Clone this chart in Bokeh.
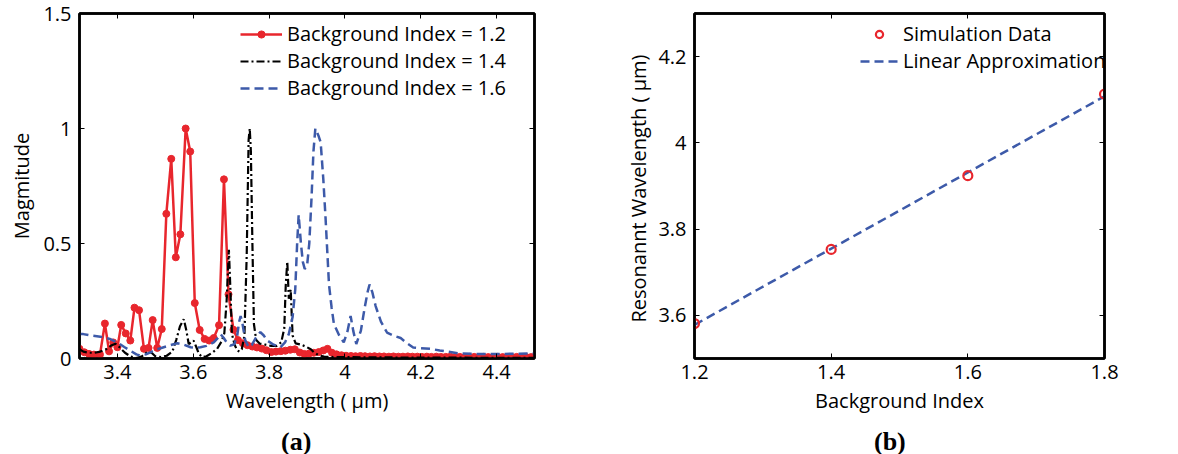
from bokeh.plotting import figure
from bokeh.layouts import row, column
from bokeh.models import (FixedTicker, CustomJSTickFormatter, LinearAxis, Legend,
                          LegendItem, Div)
from bokeh.embed import file_html
from bokeh.resources import INLINE

# ---------------- data: panel (a) ----------------
red_wl = [3.300, 3.313, 3.325, 3.338, 3.354, 3.367, 3.378, 3.389, 3.400, 3.410,
          3.422, 3.434, 3.445, 3.457, 3.470, 3.482, 3.493, 3.505, 3.517, 3.529,
          3.542, 3.554, 3.566, 3.580, 3.592, 3.604, 3.617, 3.630, 3.642, 3.654,
          3.668, 3.681, 3.693, 3.706, 3.718, 3.731, 3.743, 3.756, 3.768, 3.781,
          3.793, 3.806, 3.818, 3.831, 3.843, 3.856, 3.868, 3.881, 3.893, 3.906,
          3.918, 3.931, 3.943, 3.954, 3.966, 3.978, 3.991, 4.003, 4.016, 4.028,
          4.041, 4.053, 4.066, 4.078, 4.091, 4.103, 4.116, 4.128, 4.141, 4.153,
          4.166, 4.178, 4.191, 4.203, 4.216, 4.228, 4.241, 4.253, 4.266, 4.278,
          4.291, 4.303, 4.316, 4.328, 4.341, 4.353, 4.366, 4.378, 4.391, 4.403,
          4.416, 4.428, 4.441, 4.453, 4.466, 4.478, 4.491, 4.500]
red_mag = [0.042, 0.027, 0.020, 0.017, 0.017, 0.152, 0.031, 0.070, 0.049, 0.146,
           0.109, 0.078, 0.221, 0.210, 0.042, 0.046, 0.167, 0.046, 0.128, 0.629,
           0.868, 0.440, 0.540, 1.000, 0.900, 0.241, 0.124, 0.085, 0.078, 0.089,
           0.145, 0.779, 0.279, 0.125, 0.080, 0.066, 0.058, 0.052, 0.048, 0.043,
           0.036, 0.028, 0.030, 0.032, 0.034, 0.038, 0.040, 0.026, 0.020, 0.022,
           0.025, 0.028, 0.035, 0.042, 0.025, 0.018, 0.014, 0.012, 0.011, 0.010,
           0.011, 0.010, 0.009, 0.010, 0.009, 0.009, 0.008, 0.009, 0.008, 0.008,
           0.009, 0.008, 0.008, 0.007, 0.008, 0.007, 0.008, 0.007, 0.007, 0.008,
           0.007, 0.007, 0.006, 0.007, 0.007, 0.006, 0.007, 0.006, 0.006, 0.007,
           0.006, 0.006, 0.006, 0.007, 0.006, 0.006, 0.006, 0.006]

blk_wl = [3.300, 3.310, 3.325, 3.340, 3.355, 3.370, 3.385, 3.395, 3.405, 3.420,
          3.435, 3.450, 3.465, 3.480, 3.490, 3.500, 3.515, 3.530, 3.545, 3.555,
          3.565, 3.575, 3.582, 3.588, 3.595, 3.601, 3.608, 3.615, 3.624, 3.635,
          3.650, 3.663, 3.675, 3.682, 3.688, 3.694, 3.698, 3.702, 3.709, 3.716,
          3.722, 3.728, 3.735, 3.741, 3.746, 3.749, 3.752, 3.756, 3.760, 3.766,
          3.775, 3.790, 3.805, 3.820, 3.832, 3.840, 3.844, 3.848, 3.852, 3.857,
          3.862, 3.870, 3.885, 3.900, 3.910, 3.918, 3.930, 3.945, 3.960, 3.980,
          4.000, 4.050, 4.100, 4.150, 4.200, 4.250, 4.300, 4.350, 4.400, 4.450,
          4.500]
blk_mag = [0.040, 0.030, 0.025, 0.025, 0.030, 0.040, 0.058, 0.064, 0.050, 0.025,
           0.008, 0.002, 0.010, 0.030, 0.025, 0.010, 0.006, 0.012, 0.030, 0.080,
           0.140, 0.171, 0.120, 0.063, 0.070, 0.078, 0.050, 0.020, 0.006, 0.010,
           0.025, 0.042, 0.075, 0.110, 0.250, 0.473, 0.300, 0.107, 0.060, 0.035,
           0.030, 0.040, 0.100, 0.450, 0.950, 1.000, 0.900, 0.500, 0.150, 0.080,
           0.065, 0.060, 0.055, 0.055, 0.070, 0.130, 0.320, 0.422, 0.260, 0.300,
           0.100, 0.066, 0.060, 0.049, 0.040, 0.027, 0.015, 0.008, 0.007, 0.006,
           0.006, 0.005, 0.005, 0.004, 0.004, 0.004, 0.004, 0.003, 0.003, 0.003,
           0.003]

blu_wl = [3.300, 3.310, 3.330, 3.355, 3.380, 3.400, 3.418, 3.434, 3.450, 3.460,
          3.475, 3.487, 3.505, 3.522, 3.540, 3.558, 3.575, 3.593, 3.605, 3.619,
          3.635, 3.654, 3.665, 3.672, 3.680, 3.690, 3.698, 3.708, 3.716, 3.721,
          3.725, 3.730, 3.737, 3.746, 3.755, 3.765, 3.777, 3.786, 3.795, 3.812,
          3.830, 3.842, 3.852, 3.862, 3.869, 3.874, 3.878, 3.884, 3.889, 3.894,
          3.900, 3.906, 3.912, 3.917, 3.922, 3.930, 3.936, 3.943, 3.949, 3.958,
          3.965, 3.971, 3.985, 3.997, 4.007, 4.015, 4.022, 4.030, 4.042, 4.052,
          4.060, 4.065, 4.072, 4.081, 4.095, 4.111, 4.130, 4.147, 4.165, 4.180,
          4.200, 4.225, 4.250, 4.270, 4.300, 4.340, 4.380, 4.420, 4.460, 4.500]
blu_mag = [0.107, 0.106, 0.100, 0.095, 0.085, 0.070, 0.050, 0.034, 0.018, 0.013,
           0.018, 0.027, 0.040, 0.049, 0.058, 0.066, 0.060, 0.049, 0.047, 0.049,
           0.055, 0.070, 0.090, 0.106, 0.090, 0.065, 0.056, 0.062, 0.100, 0.160,
           0.185, 0.150, 0.080, 0.049, 0.060, 0.090, 0.115, 0.100, 0.078, 0.060,
           0.049, 0.070, 0.106, 0.180, 0.300, 0.500, 0.624, 0.500, 0.420, 0.390,
           0.400, 0.500, 0.700, 0.900, 1.000, 0.970, 0.940, 0.780, 0.609, 0.322,
           0.220, 0.150, 0.100, 0.070, 0.120, 0.185, 0.120, 0.063, 0.120, 0.220,
           0.290, 0.322, 0.290, 0.228, 0.160, 0.113, 0.098, 0.089, 0.065, 0.048,
           0.045, 0.042, 0.035, 0.030, 0.022, 0.020, 0.020, 0.020, 0.021, 0.022]

series_labels = ["Background Index = 1.2", "Background Index = 1.4", "Background Index = 1.6"]
a_xticks = [3.4, 3.6, 3.8, 4.0, 4.2, 4.4]
a_yticks = [0, 0.5, 1, 1.5]

# ---------------- data: panel (b) ----------------
sim_index = [1.2, 1.4, 1.6, 1.8]
sim_wl = [3.581, 3.753, 3.924, 4.113]
fit_index = [1.2, 1.8]
fit_wl = [3.578, 4.108]
b_xticks = [1.2, 1.4, 1.6, 1.8]
b_yticks = [3.6, 3.8, 4.0, 4.2]

RED = "#e8262d"
BLUE = "#3d5aa9"
FONT = "Open Sans"
FS = "20px"
TOP = 13
FIG_H = 430
BOTTOM = 72
CAP_H = 24


def frame_axes(p, xticks, yticks, xlabel, ylabel, ylabel_standoff):
    fmt = CustomJSTickFormatter(code="return tick.toString();")
    xa = p.below[0]
    ya = p.left[0]
    xa.ticker = FixedTicker(ticks=xticks)
    ya.ticker = FixedTicker(ticks=yticks)
    xa.axis_label = xlabel
    ya.axis_label = ylabel
    for ax in [xa, ya]:
        ax.formatter = fmt
        ax.major_tick_in = 5
        ax.major_tick_out = 0
        ax.minor_tick_in = 0
        ax.minor_tick_out = 0
        ax.axis_line_width = 2.5
        ax.axis_line_color = "black"
        ax.major_tick_line_color = "black"
        ax.major_tick_line_width = 1
        ax.major_label_text_font = FONT
        ax.major_label_text_font_size = FS
        ax.major_label_text_color = "black"
        ax.axis_label_text_font = FONT
        ax.axis_label_text_font_size = FS
        ax.axis_label_text_font_style = "normal"
        ax.axis_label_text_color = "black"
    xa.major_label_standoff = 6
    xa.axis_label_standoff = 5
    ya.major_label_standoff = 8
    ya.axis_label_standoff = ylabel_standoff
    for loc, ticks in (("above", xticks), ("right", yticks)):
        ax = LinearAxis(ticker=FixedTicker(ticks=ticks),
                        formatter=CustomJSTickFormatter(code="return '';"),
                        major_tick_in=5, major_tick_out=0,
                        minor_tick_in=0, minor_tick_out=0,
                        major_label_standoff=0,
                        major_label_text_font_size="0px",
                        axis_line_width=2.5, axis_line_color="black",
                        major_tick_line_color="black", major_tick_line_width=1)
        p.add_layout(ax, loc)
    p.xgrid.visible = False
    p.ygrid.visible = False
    p.outline_line_color = "black"
    p.outline_line_width = 2.5
    p.background_fill_color = "white"
    p.border_fill_color = "white"


def caption(text, width, left):
    html = ('<div style="margin-left:%dpx;font-family:\'Liberation Serif\';'
            'font-weight:bold;font-size:26px;line-height:%dpx;color:black;'
            'white-space:nowrap">%s</div>' % (left, CAP_H, text))
    return Div(text=html, width=width, height=CAP_H, margin=0)


# ---------------- panel (a) ----------------
p1 = figure(width=600, height=FIG_H, x_range=(3.3, 4.5), y_range=(0, 1.5),
            output_backend="svg", toolbar_location=None,
            min_border_left=79, min_border_right=66,
            min_border_top=TOP, min_border_bottom=BOTTOM)
frame_axes(p1, a_xticks, a_yticks, "Wavelength ( \u03bcm)", "Magmitude", 5)

r_line = p1.line(red_wl, red_mag, line_color=RED, line_width=2.5)
r_dots = p1.scatter(red_wl, red_mag, marker="circle", size=7,
                    fill_color=RED, line_color=RED)
k_line = p1.line(blk_wl, blk_mag, line_color="black", line_width=2.2,
                 line_dash="8 3 2 3")
b_line = p1.line(blu_wl, blu_mag, line_color=BLUE, line_width=2.5,
                 line_dash="9 5")

leg1 = Legend(items=[LegendItem(label=series_labels[0], renderers=[r_line, r_dots]),
                     LegendItem(label=series_labels[1], renderers=[k_line]),
                     LegendItem(label=series_labels[2], renderers=[b_line])],
              location=(161, 257), padding=0, spacing=0, margin=0,
              glyph_width=42, glyph_height=18, label_height=18,
              label_standoff=5, label_text_font=FONT, label_text_font_size=FS,
              label_text_color="black", border_line_color=None,
              background_fill_alpha=0)
p1.add_layout(leg1)

# ---------------- panel (b) ----------------
p2 = figure(width=578, height=FIG_H, x_range=(1.2, 1.8), y_range=(3.5, 4.3),
            output_backend="svg", toolbar_location=None,
            min_border_left=94, min_border_right=74,
            min_border_top=TOP, min_border_bottom=BOTTOM)
frame_axes(p2, b_xticks, b_yticks, "Background Index",
           "Resonannt Wavelength (  \u03bcm)", 3)

f_line = p2.line(fit_index, fit_wl, line_color=BLUE, line_width=2.5, line_dash="9 5")
s_dots = p2.scatter(sim_index, sim_wl, marker="circle", size=9,
                    fill_color=None, line_color=RED, line_width=2.2)

leg2 = Legend(items=[LegendItem(label="Simulation Data", renderers=[s_dots]),
                     LegendItem(label="Linear Approximation", renderers=[f_line])],
              location=(166, 284), padding=0, spacing=0, margin=0,
              glyph_width=38, glyph_height=18, label_height=18,
              label_standoff=5, label_text_font=FONT, label_text_font_size=FS,
              label_text_color="black", border_line_color=None,
              background_fill_alpha=0)
p2.add_layout(leg2)

cap_row = row(caption("(a)", 600, 281), caption("(b)", 578, 274))
layout = column(row(p1, p2), cap_row)
open("out.html", "w").write(file_html(layout, INLINE))
